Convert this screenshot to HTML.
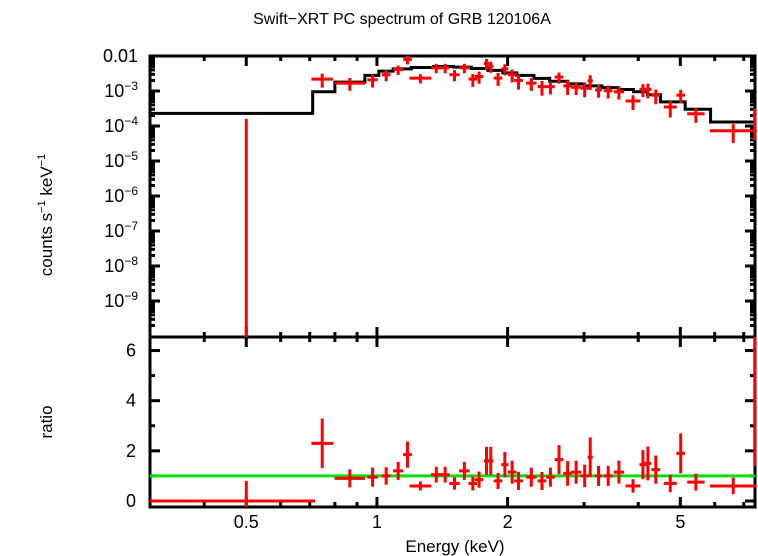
<!DOCTYPE html>
<html><head><meta charset="utf-8"><style>
html,body{margin:0;padding:0;background:#fff;}
svg{display:block;font-family:"Liberation Sans",sans-serif;}
</style></head><body>
<svg id="chart" width="758" height="556" viewBox="0 0 758 556" xmlns="http://www.w3.org/2000/svg">
<text x="402" y="24" font-size="16" text-anchor="middle">Swift−XRT PC spectrum of GRB 120106A</text>
<text transform="translate(52,215) rotate(-90)" font-size="17" text-anchor="middle">counts s<tspan font-size="11" dy="-7">−1</tspan><tspan dy="7"> keV</tspan><tspan font-size="11" dy="-7">−1</tspan></text>
<text transform="translate(52,422) rotate(-90)" font-size="17" text-anchor="middle">ratio</text>
<text x="455" y="552" font-size="17" text-anchor="middle">Energy (keV)</text>
<g id="g"></g>
</svg>
<script>
const energy=[0.748,0.866,0.977,1.050,1.119,1.176,1.259,1.37,1.436,1.509,1.590,1.663,1.719,1.788,1.829,1.901,1.971,2.049,2.119,2.268,2.40,2.51,2.627,2.75,2.877,3.01,3.10,3.24,3.41,3.61,3.89,4.10,4.21,4.39,4.74,5.01,5.43,6.62,7.42];
const xerrLog=[0.025,0.035,0.012,0.01,0.012,0.01,0.025,0.012,0.01,0.012,0.012,0.01,0.01,0.006,0.006,0.01,0.008,0.01,0.01,0.012,0.01,0.01,0.01,0.01,0.012,0.01,0.006,0.008,0.01,0.012,0.017,0.008,0.008,0.01,0.015,0.01,0.02,0.054,0.003];
const counts=[2.19e-3,1.68e-3,2.09e-3,2.92e-3,4.1e-3,8.0e-3,2.34e-3,4.6e-3,4.6e-3,2.92e-3,4.6e-3,2.19e-3,2.6e-3,6.1e-3,5.1e-3,2.34e-3,4.3e-3,2.92e-3,2.0e-3,1.68e-3,1.33e-3,1.33e-3,2.5e-3,1.4e-3,1.28e-3,1.2e-3,1.95e-3,1.07e-3,1.02e-3,9.5e-4,5.2e-4,1.12e-3,1.12e-3,7.6e-4,3.5e-4,7.6e-4,2.24e-4,7.3e-5,1.78e-4];
const ratio=[2.3,0.9,0.95,1.0,1.2,1.85,0.6,1.05,1.05,0.7,1.2,0.7,0.85,1.6,1.6,0.8,1.45,1.15,0.8,0.95,0.8,0.95,1.65,1.1,1.15,1.0,1.75,1.0,1.0,1.15,0.6,1.45,1.5,1.25,0.7,1.9,0.75,0.6,6.3];
const relErr=[0.43,0.4,0.4,0.35,0.3,0.28,0.3,0.3,0.3,0.35,0.3,0.4,0.38,0.35,0.35,0.4,0.35,0.4,0.45,0.4,0.45,0.4,0.35,0.45,0.4,0.45,0.45,0.4,0.4,0.4,0.45,0.4,0.45,0.45,0.5,0.42,0.45,0.55,0.78];
const ulEnergy=[0.5];
const ulCounts=[1.6e-4];
const ulRatioHi=[0.8];
const ulBinLo=[0.3];
const ulBinHi=[0.72];
const modelEdges=[0.30,0.711,0.80,0.938,1.01,1.09,1.2,1.35,1.5,1.65,1.8,1.95,2.1,2.3,2.5,2.75,3.0,3.3,3.6,3.9,4.2,4.5,5.13,5.87,7.5];
const modelVals=[2.3e-4,9.5e-4,1.8e-3,2.8e-3,3.7e-3,4.3e-3,4.7e-3,5.0e-3,4.8e-3,4.4e-3,3.9e-3,3.3e-3,2.8e-3,2.3e-3,1.9e-3,1.6e-3,1.4e-3,1.25e-3,1.1e-3,9.5e-4,7.8e-4,4.9e-4,3.0e-4,1.3e-4];
const xMajor=[0.5,1,2,5];
const xMajorLabels=["0.5","1","2","5"];
const xMinor=[0.4,0.6,0.7,0.8,0.9,3,4,6,7];
const yTopMajorExp=[-2,-3,-4,-5,-6,-7,-8,-9];
const ratioMajor=[0,2,4,6];
const ratioMinor=[1,3,5];

const L=150,R=755,T1=56,B1=337,T2=337,B2=507;
const XMIN=0.3,XMAX=7.43;
const YTOPMAX=-2,YTOPMIN=-2-(B1-T1)/35;
const RMIN=-0.24,RMAX=6.54;
const X=e=>L+(Math.log10(e)-Math.log10(XMIN))/(Math.log10(XMAX)-Math.log10(XMIN))*(R-L);
const Y1=v=>T1+(YTOPMAX-Math.log10(v))/(YTOPMAX-YTOPMIN)*(B1-T1);
const Y2=r=>B2-(r-RMIN)/(RMAX-RMIN)*(B2-T2);
const NS="http://www.w3.org/2000/svg";
const g=document.getElementById('g');
function mk(tag,attrs,parent){const el=document.createElementNS(NS,tag);for(const k in attrs)el.setAttribute(k,attrs[k]);(parent||g).appendChild(el);return el;}
const defs=mk('defs',{});
const c1=mk('clipPath',{id:'c1'},defs);mk('rect',{x:L,y:T1-2,width:R-L+3,height:B1-T1+2},c1);
const c2=mk('clipPath',{id:'c2'},defs);mk('rect',{x:L,y:T2,width:R-L+3,height:B2-T2},c2);

const axg=mk('g',{stroke:'#000','stroke-width':3,fill:'none'});


mk('rect',{x:L,y:T1,width:R-L,height:B1-T1},axg);
mk('rect',{x:L,y:T2,width:R-L,height:B2-T2},axg);
function tk(x1,y1,x2,y2){mk('line',{x1,y1,x2,y2},axg);}
[[T1,B1],[T2,B2]].forEach(([t,b])=>{
  xMajor.forEach(e=>{const x=X(e);tk(x,t,x,t+10);tk(x,b,x,b-10);});
  xMinor.forEach(e=>{const x=X(e);tk(x,t,x,t+5);tk(x,b,x,b-5);});
});

const p1=mk('g',{'clip-path':'url(#c1)'});


const p2=mk('g',{'clip-path':'url(#c2)'});



let d='';
for(let i=0;i<modelVals.length;i++){const x0=X(modelEdges[i]),x1=Math.min(X(modelEdges[i+1]),R),y=Y1(modelVals[i]);d+=(i?'L':'M')+x0+','+y+'L'+x1+','+y;}
const model=mk('path',{d:d,fill:'none',stroke:'#000','stroke-width':3},p1);



const gl=mk('line',{x1:L,x2:R,y1:Y2(1),y2:Y2(1),stroke:'#00e000','stroke-width':3},p2);



function cross(par,x0,x1,xc,y,ylo,yhi,name){
  const gg=mk('g',{stroke:'#f00','stroke-width':3},par);
  
  
  mk('line',{x1:x0,x2:x1,y1:y,y2:y},gg);
  mk('line',{x1:xc,x2:xc,y1:ylo,y2:yhi},gg);
}
for(let i=0;i<energy.length;i++){
  const lo=energy[i]/Math.pow(10,xerrLog[i]),hi=energy[i]*Math.pow(10,xerrLog[i]);
  const xc=X(energy[i]),x0=X(lo),x1=X(hi);
  const c=counts[i],e=relErr[i];
  cross(p1,x0,x1,xc,Y1(c),Y1(c*(1-e)),Y1(c*(1+e)),'data-point');
  const r=ratio[i],re=r*e;
  cross(p2,x0,x1,xc,Y2(r),Y2(r-re),Y2(r+re),'ratio-point');
}
for(let i=0;i<ulEnergy.length;i++){
  const xc=X(ulEnergy[i]);
  cross(p1,xc,xc,xc,B1+5,B1+5,Y1(ulCounts[i]),'upper-limit-point');
  cross(p2,X(ulBinLo[i]),X(ulBinHi[i]),xc,Y2(0),B2+5,Y2(ulRatioHi[i]),'upper-limit-ratio-point');
}

const lab=mk('g',{'font-size':'18','fill':'#000'});


xMajor.forEach((e,i)=>{const t=mk('text',{x:X(e),y:528,'text-anchor':'middle'},lab);t.textContent=xMajorLabels[i];});
yTopMajorExp.forEach(p=>{
  const y=Y1(Math.pow(10,p));
  tk(L,y,L+10,y);tk(R,y,R-10,y);
  for(let m=2;m<10;m++){const v=Math.pow(10,p-1)*m;const ym=Y1(v);if(ym<=B1){tk(L,ym,L+5,ym);tk(R,ym,R-5,ym);}}
  const t=mk('text',{x:138,y:y+6,'text-anchor':'end'},lab);
  if(p===-2){t.textContent='0.01';}
  else{t.textContent='10';const s=mk('tspan',{'font-size':'12',dy:'-7'},t);s.textContent='−'+(-p);}
});
ratioMajor.forEach(r=>{const y=Y2(r);tk(L,y,L+10,y);tk(R,y,R-10,y);const t=mk('text',{x:136,y:y+6,'text-anchor':'end'},lab);t.textContent=String(r);});
ratioMinor.forEach(r=>{const y=Y2(r);tk(L,y,L+5,y);tk(R,y,R-5,y);});
</script>
</body></html>
